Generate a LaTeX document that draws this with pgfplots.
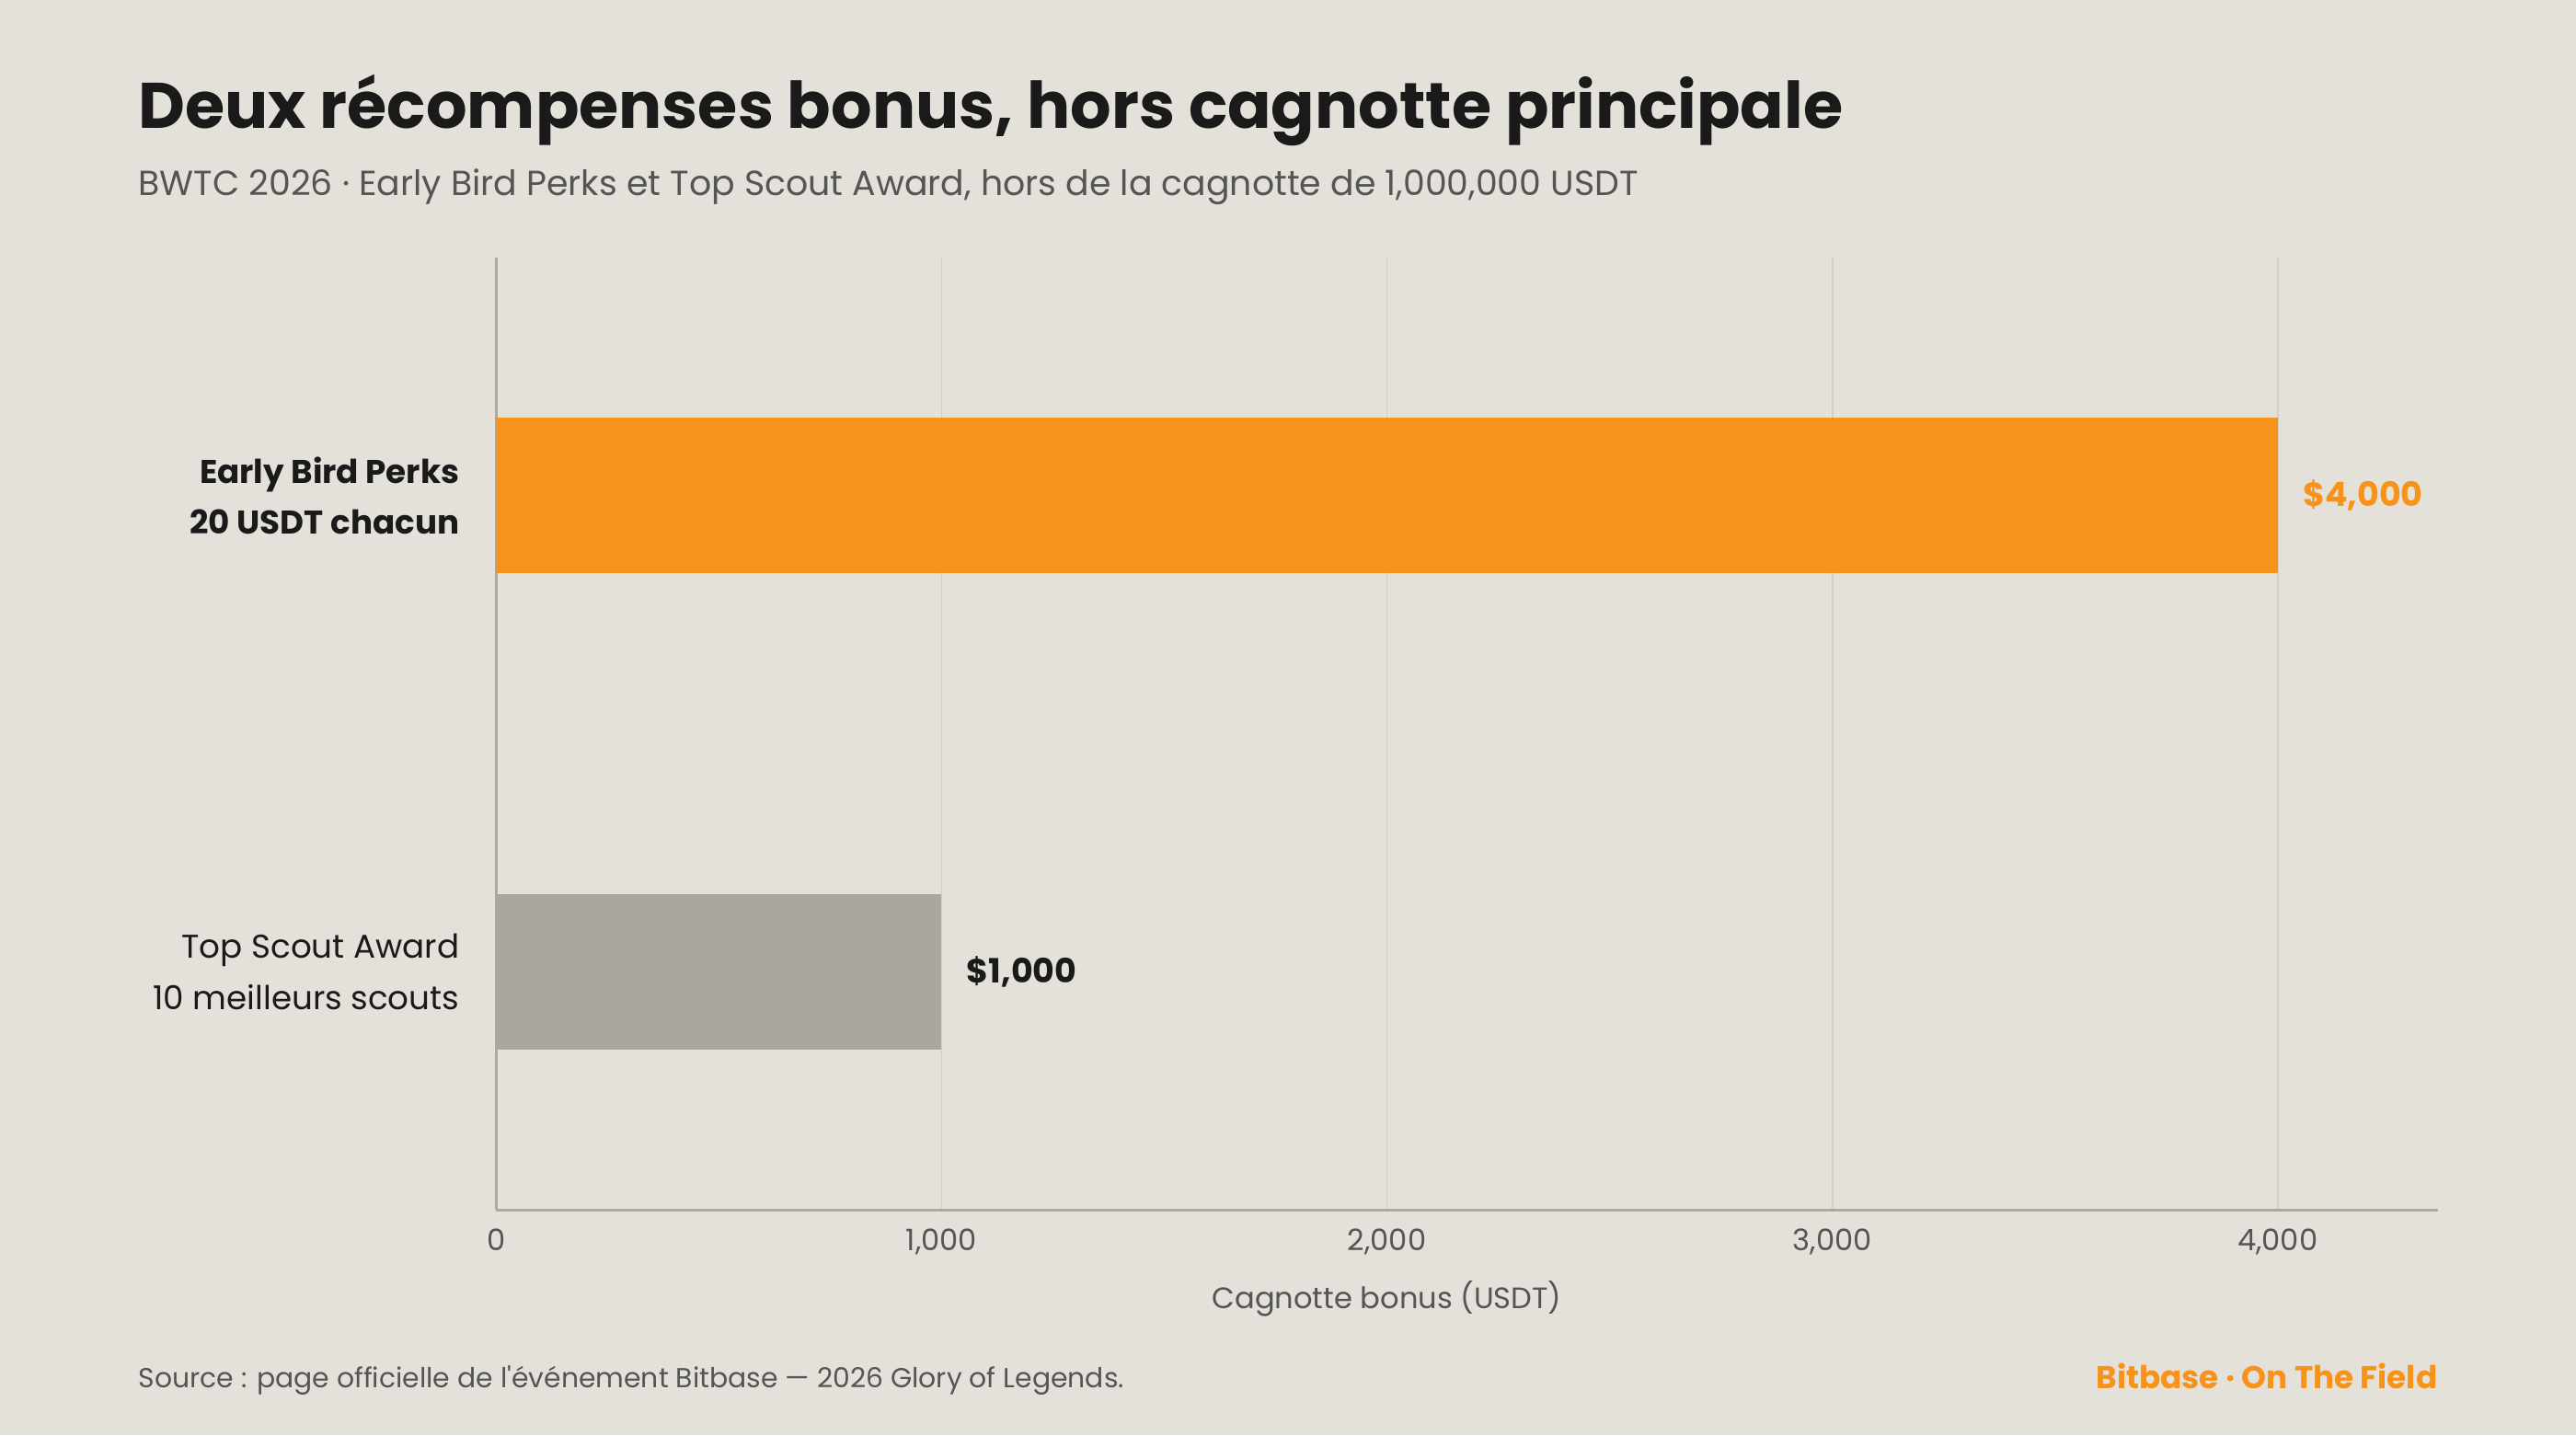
\documentclass[border=0pt]{standalone}
\usepackage{fontspec}
\setmainfont{Poppins}
\usepackage{pgfplots}
\pgfplotsset{compat=1.18}

\definecolor{bg}{HTML}{E4E0DA}
\definecolor{ink}{HTML}{1A1A1A}
\definecolor{muted}{HTML}{555555}
\definecolor{btcorange}{HTML}{F7931A}
\definecolor{bargray}{HTML}{ABA69F}
\definecolor{gridc}{HTML}{D3CEC7}
\definecolor{axisc}{HTML}{AEA99F}

\begin{document}
\begin{tikzpicture}
\path[fill=bg] (0,0) rectangle (784pt,436.8pt);
\useasboundingbox (0,0) rectangle (784pt,436.8pt);

% title block
\node[anchor=base west, inner sep=0pt, text=ink,
      font=\fontsize{19.6}{24}\selectfont\bfseries] at (42pt,397.8pt)
  {Deux récompenses bonus, hors cagnotte principale};
\node[anchor=base west, inner sep=0pt, text=muted,
      font=\fontsize{10.6}{13}\selectfont] at (42pt,377.3pt)
  {BWTC 2026 · Early Bird Perks et Top Scout Award, hors de la cagnotte de 1,000,000 USDT};

\begin{axis}[
    at={(151pt,68.5pt)}, anchor=south west,
    scale only axis, width=591pt, height=290pt,
    xmin=0, xmax=4360, ymin=-0.5, ymax=1.5,
    axis x line*=bottom, axis y line*=left,
    axis line style={color=axisc, line width=0.75pt},
    major tick length=0pt,
    xtick={0,1000,2000,3000,4000},
    scaled x ticks=false,
    /pgf/number format/1000 sep={,},
    /pgf/number format/assume math mode=true,
    xmajorgrids=true,
    major grid style={color=gridc, line width=0.5pt},
    xticklabel style={anchor=base, yshift=-12.3pt, inner sep=0pt,
        text=muted, font=\fontsize{9}{11}\selectfont},
    xlabel={Cagnotte bonus (USDT)},
    xlabel style={at={(axis cs:2000,-0.5)}, anchor=base,
        yshift=-30pt, inner sep=0pt, text=muted,
        font=\fontsize{9}{11}\selectfont},
    ytick={0,1},
    yticklabels={{Top Scout Award\\10 meilleurs scouts},
                 {\bfseries Early Bird Perks\\\bfseries 20 USDT chacun}},
    yticklabel style={anchor=east, align=right, xshift=-11pt, inner sep=0pt,
        text=ink, font=\fontsize{10}{15.5}\selectfont},
    every node near coord/.append style={anchor=west, xshift=7.5pt,
        inner sep=0pt, font=\fontsize{10.2}{12}\selectfont\bfseries},
]
\addplot[xbar, bar width=47.5pt, bar shift=0pt, fill=btcorange, draw=none,
    point meta=x, nodes near coords={\$\pgfmathprintnumber{\pgfplotspointmeta}},
    every node near coord/.append style={text=btcorange}]
    coordinates {(4000,1)};
\addplot[xbar, bar width=47.5pt, bar shift=0pt, fill=bargray, draw=none,
    point meta=x, nodes near coords={\$\pgfmathprintnumber{\pgfplotspointmeta}},
    every node near coord/.append style={text=ink}]
    coordinates {(1000,0)};
\end{axis}

% footer
\node[anchor=base west, inner sep=0pt, text=muted,
      font=\fontsize{8.36}{10}\selectfont] at (42pt,14.5pt)
  {Source : page officielle de l\textquotesingle événement Bitbase — 2026 Glory of Legends.};
\node[anchor=base east, inner sep=0pt, text=btcorange,
      font=\fontsize{9.6}{11}\selectfont\bfseries] at (742pt,14.2pt)
  {Bitbase · On The Field};
\end{tikzpicture}
\end{document}
